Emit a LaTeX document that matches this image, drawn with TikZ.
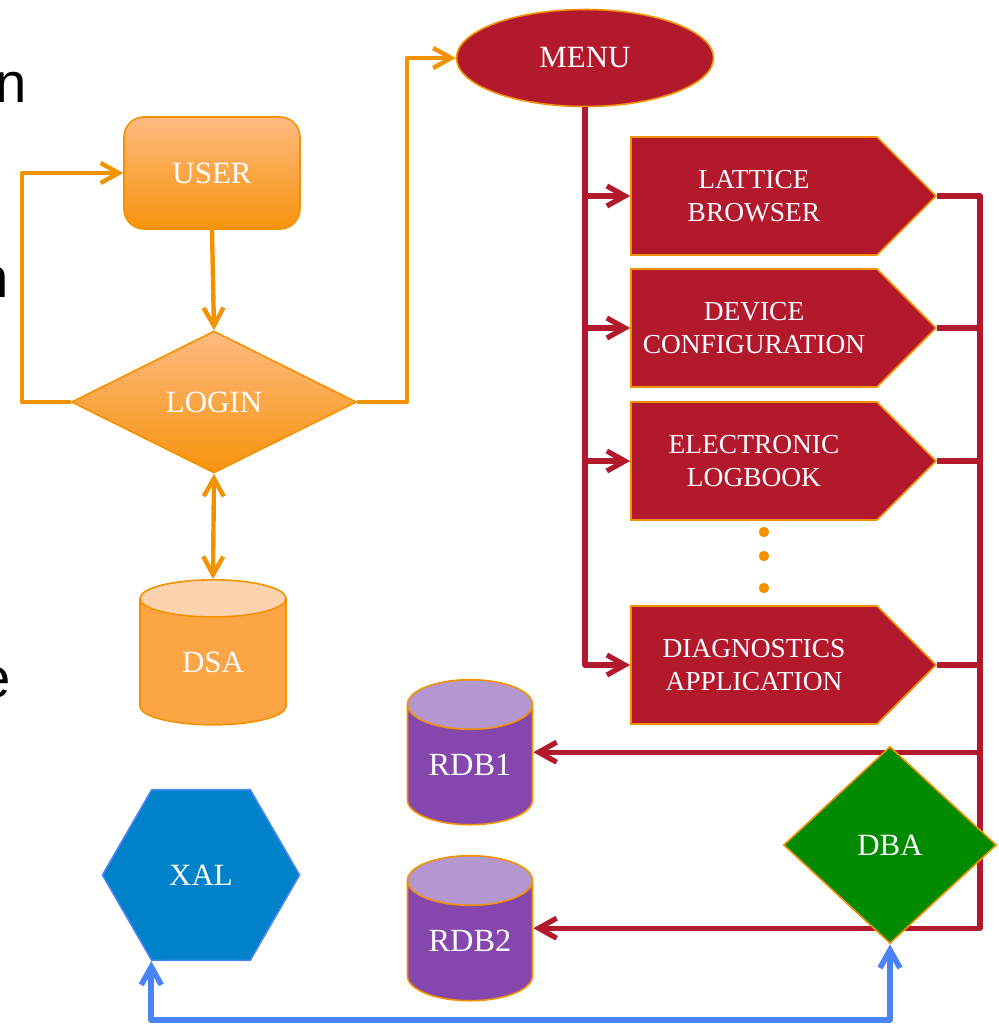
\documentclass[tikz,border=0pt]{standalone}
\usepackage{fontspec}
\setmainfont{Liberation Serif}
\newfontfamily\folienschrift{Liberation Sans}
\usepackage{tikz}
\usetikzlibrary{positioning, arrows.meta, calc, shapes.geometric, shapes.symbols}
\definecolor{randorange}{HTML}{F39200}
\definecolor{orangehell}{HTML}{FDBA80}
\definecolor{orangedunkel}{HTML}{F8930C}
\definecolor{dsamantel}{HTML}{FBA545}
\definecolor{dsadeckel}{HTML}{FDD3AF}
\definecolor{menurot}{HTML}{B3192C}
\definecolor{dbagruen}{HTML}{008A00}
\definecolor{rdblila}{HTML}{8547AD}
\definecolor{rdbdeckel}{HTML}{B597CF}
\definecolor{xalblau}{HTML}{0082CA}
\definecolor{pfeilblau}{HTML}{4A84F4}

\begin{document}
\begin{tikzpicture}[x=0.25mm, y=-0.25mm, font=\fontsize{22}{26}\selectfont,
    spitze/.tip={Straight Barb[length=4.5mm, width=5mm]},
    txt/.style={text=white, align=center, inner sep=0pt},
    orangeform/.style={txt, draw=randorange, line width=0.4mm, top color=orangehell, bottom color=orangedunkel},
    rotform/.style={txt, fill=menurot, draw=randorange, line width=0.4mm},
    modul/.style={rotform, signal, signal to=east, signal pointer angle=90,
        minimum width=76.25mm, minimum height=29.5mm, font=\fontsize{19.5}{23.5}\selectfont},
    datenbank/.style={txt, cylinder, shape border rotate=90, aspect=0.6, draw=randorange,
        line width=0.4mm, cylinder uses custom fill},
    rdb/.style={datenbank, cylinder body fill=rdblila, cylinder end fill=rdbdeckel,
        minimum width=31.25mm, minimum height=36.25mm, font=\fontsize{23}{27}\selectfont},
    orangelinie/.style={draw=randorange, line width=1.1mm, line join=round},
    orangepfeil/.style={orangelinie, -spitze},
    rotlinie/.style={draw=menurot, line width=1.3mm, line join=round},
    rotpfeil/.style={rotlinie, -spitze},
    blaupfeil/.style={draw=pfeilblau, line width=1.4mm, line join=round, spitze-spitze},
    folientext/.style={font=\folienschrift\fontsize{40}{48}\selectfont, anchor=base west, inner sep=0pt}]

    \useasboundingbox (0,0) rectangle (998,1026);

    % --- RESTE DER FOLIE (links abgeschnitten) ---
    \node[folientext] (rest1) at (-4.4,102) {n};
    \node[folientext] (rest2) at (-22.4,297) {n};
    \node[folientext] (rest3) at (-20.6,697) {e};

    % --- 1. ANMELDUNG ---
    \node[orangeform, rounded corners=5mm, minimum width=44mm, minimum height=28mm] (user) at (212,173) {USER};
    \node[orangeform, diamond, aspect=2, minimum width=71.25mm, minimum height=35.5mm] (login) at (214,402) {LOGIN};
    \node[datenbank, cylinder body fill=dsamantel, cylinder end fill=dsadeckel,
        minimum width=36.5mm, minimum height=36.25mm] (dsa) at (213,662) {DSA};

    \coordinate (schleifeL) at (22,300);
    \coordinate (schleifeR) at (407,200);
    \draw[orangepfeil] (login.west) -| (schleifeL) |- (user.west);
    \draw[orangepfeil] (user.south) -- (login.north);
    \draw[orangelinie, spitze-spitze] (login.south) -- (dsa.north);

    % --- 2. MENU UND MODULE ---
    \node[rotform, ellipse, minimum width=64.25mm, minimum height=24.25mm] (menu) at (585,58) {MENU};
    \node[modul] (lattice) at (754,196) {LATTICE\\BROWSER};
    \node[modul] (device) at (754,328) {DEVICE\\CONFIGURATION};
    \node[modul] (elog) at (754,461) {ELECTRONIC\\LOGBOOK};
    \node[modul] (diag) at (754,665) {DIAGNOSTICS\\APPLICATION};

    % Punkte zwischen den Modulen
    \foreach \y in {532,556,588}
        \fill[randorange] (764,\y) circle[radius=1.3mm];

    \draw[orangepfeil] (login.east) -| (schleifeR) |- (menu.west);
    \draw[rotpfeil] (menu.south) |- (diag.west);
    \foreach \m in {lattice, device, elog}
        \draw[rotpfeil] (menu.south |- \m.west) -- (\m.west);

    % --- 3. DATENBANKEN ---
    \node[rdb] (rdb1) at (470,765) {RDB1};
    \node[rdb] (rdb2) at (470,941) {RDB2};

    \coordinate (sammel) at (980,500);
    \draw[rotpfeil] (lattice.east) -| (sammel) |- (rdb2.shape center -| rdb2.east);
    \foreach \m in {device, elog, diag}
        \draw[rotlinie] (\m.east) -- (\m.east -| sammel);
    \draw[rotpfeil] (rdb1.shape center -| sammel) -- (rdb1.shape center -| rdb1.east);

    \node[txt, diamond, fill=dbagruen, draw=randorange, line width=0.4mm,
        minimum width=53.25mm, minimum height=49.25mm] (dba) at (890,845) {DBA};

    % --- 4. XAL ---
    \node[txt, regular polygon, regular polygon sides=6, fill=xalblau, draw=pfeilblau,
        line width=0.4mm, minimum size=49.25mm] (xal) at (201,875) {XAL};

    \coordinate (unten) at (890,1020);
    \draw[blaupfeil] (xal.corner 4) |- (unten) -- (dba.south);

\end{tikzpicture}
\end{document}
